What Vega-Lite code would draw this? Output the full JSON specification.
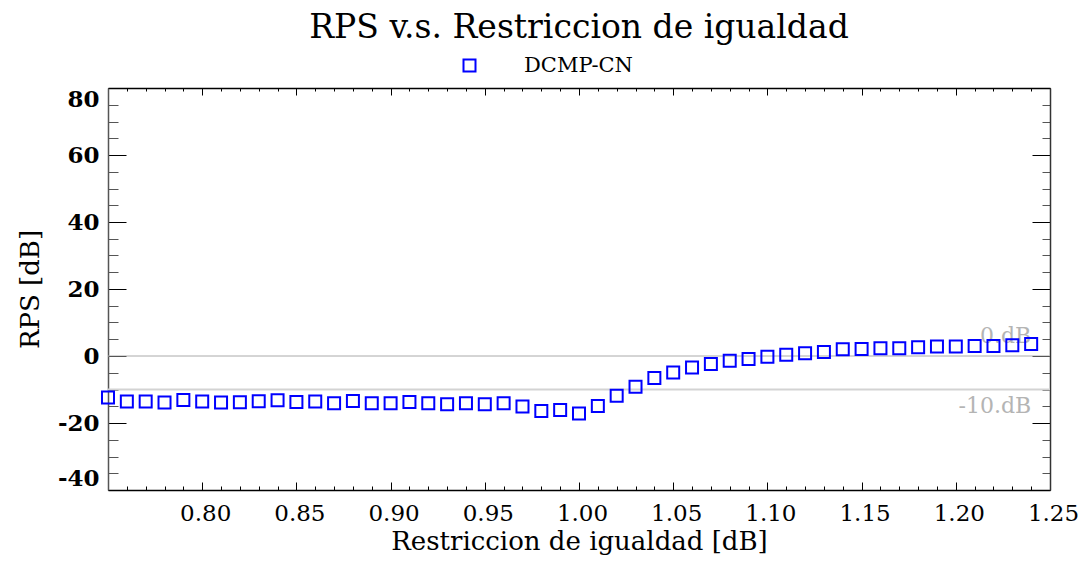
{
  "$schema": "https://vega.github.io/schema/vega-lite/v6.json",
  "width": 942,
  "height": 402,
  "autosize": "none",
  "padding": {"left": 108, "top": 88, "right": 38, "bottom": 76},
  "background": "white",
  "title": {
    "text": "RPS v.s. Restriccion de igualdad",
    "font": "DejaVu Serif",
    "fontSize": 33,
    "fontWeight": "normal",
    "color": "#000000",
    "anchor": "middle",
    "baseline": "bottom",
    "offset": -23
  },
  "datasets": {
    "points": [
      {"x": 0.75, "y": -12.4}, {"x": 0.76, "y": -13.6}, {"x": 0.77, "y": -13.6}, {"x": 0.78, "y": -13.9},
      {"x": 0.79, "y": -13.1}, {"x": 0.80, "y": -13.6}, {"x": 0.81, "y": -13.9}, {"x": 0.82, "y": -13.8},
      {"x": 0.83, "y": -13.5}, {"x": 0.84, "y": -13.2}, {"x": 0.85, "y": -13.7}, {"x": 0.86, "y": -13.6},
      {"x": 0.87, "y": -14.1}, {"x": 0.88, "y": -13.4}, {"x": 0.89, "y": -14.1}, {"x": 0.90, "y": -14.1},
      {"x": 0.91, "y": -13.7}, {"x": 0.92, "y": -14.1}, {"x": 0.93, "y": -14.4}, {"x": 0.94, "y": -14.1},
      {"x": 0.95, "y": -14.4}, {"x": 0.96, "y": -14.1}, {"x": 0.97, "y": -15.1}, {"x": 0.98, "y": -16.4},
      {"x": 0.99, "y": -16.1}, {"x": 1.00, "y": -17.2}, {"x": 1.01, "y": -14.9}, {"x": 1.02, "y": -11.9},
      {"x": 1.03, "y": -9.2}, {"x": 1.04, "y": -6.6}, {"x": 1.05, "y": -4.9}, {"x": 1.06, "y": -3.4},
      {"x": 1.07, "y": -2.4}, {"x": 1.08, "y": -1.4}, {"x": 1.09, "y": -0.9}, {"x": 1.10, "y": -0.2},
      {"x": 1.11, "y": 0.4}, {"x": 1.12, "y": 0.8}, {"x": 1.13, "y": 1.2}, {"x": 1.14, "y": 2.0},
      {"x": 1.15, "y": 2.1}, {"x": 1.16, "y": 2.3}, {"x": 1.17, "y": 2.3}, {"x": 1.18, "y": 2.6},
      {"x": 1.19, "y": 2.8}, {"x": 1.20, "y": 2.8}, {"x": 1.21, "y": 3.0}, {"x": 1.22, "y": 3.0},
      {"x": 1.23, "y": 3.2}, {"x": 1.24, "y": 3.6}
    ],
    "refs": [
      {"level": 0, "label": "0.dB"},
      {"level": -10, "label": "-10.dB"}
    ]
  },
  "layer": [
    {
      "data": {"name": "refs"},
      "mark": {"type": "rule"},
      "encoding": {
        "y": {"field": "level", "type": "quantitative", "scale": {"domain": [-40, 80], "nice": false, "zero": false}, "axis": null},
        "stroke": {"condition": {"test": "datum.level === 0", "value": "#aaaaaa"}, "value": "#d3d3d3"},
        "strokeWidth": {"condition": {"test": "datum.level === 0", "value": 1}, "value": 2}
      }
    },
    {
      "data": {"name": "refs"},
      "transform": [{"filter": "datum.level === 0"}],
      "mark": {"type": "text", "align": "right", "baseline": "alphabetic", "dy": -13, "font": "DejaVu Serif", "fontSize": 22, "color": "#b4b4b4"},
      "encoding": {
        "x": {"datum": 1.24, "type": "quantitative", "scale": {"domain": [0.75, 1.25], "nice": false, "zero": false}, "axis": null},
        "y": {"field": "level", "type": "quantitative", "scale": {"domain": [-40, 80], "nice": false, "zero": false}, "axis": null},
        "text": {"field": "label"}
      }
    },
    {
      "data": {"name": "refs"},
      "transform": [{"filter": "datum.level === -10"}],
      "mark": {"type": "text", "align": "right", "baseline": "alphabetic", "dy": 23, "font": "DejaVu Serif", "fontSize": 22, "color": "#b4b4b4"},
      "encoding": {
        "x": {"datum": 1.24, "type": "quantitative", "scale": {"domain": [0.75, 1.25], "nice": false, "zero": false}, "axis": null},
        "y": {"field": "level", "type": "quantitative", "scale": {"domain": [-40, 80], "nice": false, "zero": false}, "axis": null},
        "text": {"field": "label"}
      }
    },
    {
      "data": {"name": "points"},
      "mark": {"type": "point", "shape": "square", "filled": false, "size": 144, "strokeWidth": 2, "opacity": 1},
      "encoding": {
        "x": {
          "field": "x", "type": "quantitative",
          "scale": {"domain": [0.75, 1.25], "nice": false, "zero": false},
          "axis": {
            "orient": "bottom",
            "values": [0.75,0.76,0.77,0.78,0.79,0.80,0.81,0.82,0.83,0.84,0.85,0.86,0.87,0.88,0.89,0.90,0.91,0.92,0.93,0.94,0.95,0.96,0.97,0.98,0.99,1.00,1.01,1.02,1.03,1.04,1.05,1.06,1.07,1.08,1.09,1.10,1.11,1.12,1.13,1.14,1.15,1.16,1.17,1.18,1.19,1.20,1.21,1.22,1.23,1.24,1.25],
            "labelExpr": "(abs(datum.value*20 - round(datum.value*20)) < 0.001 && datum.value > 0.76) ? format(datum.value, '.2f') : ''",
            "labelFont": "DejaVu Serif",
            "labelFontSize": 23,
            "labelColor": "#000000",
            "labelFlush": false,
            "labelOverlap": false,
            "labelPadding": 20,
            "labelOffset": 3,
            "tickSize": {"condition": {"test": "abs(datum.value*20 - round(datum.value*20)) < 0.001", "value": -8}, "value": -4},
            "tickColor": "#000000",
            "tickWidth": 1,
            "domainColor": "#000000",
            "domainWidth": 1.5,
            "grid": false,
            "title": "Restriccion de igualdad [dB]",
            "titleFont": "DejaVu Serif",
            "titleFontSize": 26,
            "titleFontWeight": "normal",
            "titleColor": "#000000",
            "titleY": 59,
            "titleBaseline": "alphabetic"
          }
        },
        "y": {
          "field": "y", "type": "quantitative",
          "scale": {"domain": [-40, 80], "nice": false, "zero": false},
          "axis": {
            "orient": "left",
            "values": [-40,-35,-30,-25,-20,-15,-10,-5,0,5,10,15,20,25,30,35,40,45,50,55,60,65,70,75,80],
            "labelExpr": "datum.value % 20 === 0 ? '' + datum.value : ''",
            "labelFont": "DejaVu Serif",
            "labelFontSize": 23,
            "labelFontWeight": "bold",
            "labelColor": "#000000",
            "labelFlush": true,
            "labelOverlap": false,
            "labelPadding": 27,
            "tickSize": {"condition": {"test": "datum.value % 20 === 0", "value": -18}, "value": -10},
            "tickColor": {"condition": {"test": "datum.value % 20 === 0", "value": "#000000"}, "value": "#555555"},
            "tickWidth": 1,
            "domainColor": "#555555",
            "domainWidth": 1.5,
            "grid": false,
            "title": "RPS [dB]",
            "titleFont": "DejaVu Serif",
            "titleFontSize": 26,
            "titleFontWeight": "normal",
            "titleColor": "#000000",
            "titleX": -78,
            "titleBaseline": "middle"
          }
        },
        "stroke": {
          "datum": "DCMP-CN", "type": "nominal",
          "scale": {"domain": ["DCMP-CN"], "range": ["#0000ff"]},
          "legend": {
            "orient": "none",
            "legendX": 351,
            "legendY": -33,
            "title": null,
            "padding": 0,
            "symbolType": "square",
            "symbolSize": 144,
            "symbolStrokeWidth": 2,
            "symbolFillColor": "transparent",
            "labelFont": "DejaVu Serif",
            "labelFontSize": 21,
            "labelColor": "#000000",
            "labelOffset": 44
          }
        }
      }
    },
    {
      "data": {"name": "points"},
      "mark": {"type": "point", "opacity": 0},
      "encoding": {
        "x": {
          "field": "x", "type": "quantitative",
          "scale": {"domain": [0.75, 1.25], "nice": false, "zero": false},
          "axis": {
            "orient": "top",
            "values": [0.75,0.76,0.77,0.78,0.79,0.80,0.81,0.82,0.83,0.84,0.85,0.86,0.87,0.88,0.89,0.90,0.91,0.92,0.93,0.94,0.95,0.96,0.97,0.98,0.99,1.00,1.01,1.02,1.03,1.04,1.05,1.06,1.07,1.08,1.09,1.10,1.11,1.12,1.13,1.14,1.15,1.16,1.17,1.18,1.19,1.20,1.21,1.22,1.23,1.24,1.25],
            "labels": false,
            "tickSize": {"condition": {"test": "abs(datum.value*20 - round(datum.value*20)) < 0.001", "value": -7}, "value": -3},
            "tickColor": "#000000",
            "tickWidth": 1,
            "domainColor": "#000000",
            "domainWidth": 1.5,
            "grid": false,
            "title": null
          }
        },
        "y": {
          "field": "y", "type": "quantitative",
          "scale": {"domain": [-40, 80], "nice": false, "zero": false},
          "axis": {
            "orient": "right",
            "values": [-40,-35,-30,-25,-20,-15,-10,-5,0,5,10,15,20,25,30,35,40,45,50,55,60,65,70,75,80],
            "labels": false,
            "tickSize": {"condition": {"test": "datum.value % 20 === 0", "value": -18}, "value": -8},
            "tickColor": {"condition": {"test": "datum.value % 20 === 0", "value": "#000000"}, "value": "#555555"},
            "tickWidth": 1,
            "domainColor": "#333333",
            "domainWidth": 1.5,
            "grid": false,
            "title": null
          }
        }
      }
    }
  ],
  "config": {
    "view": {"stroke": null}
  }
}
